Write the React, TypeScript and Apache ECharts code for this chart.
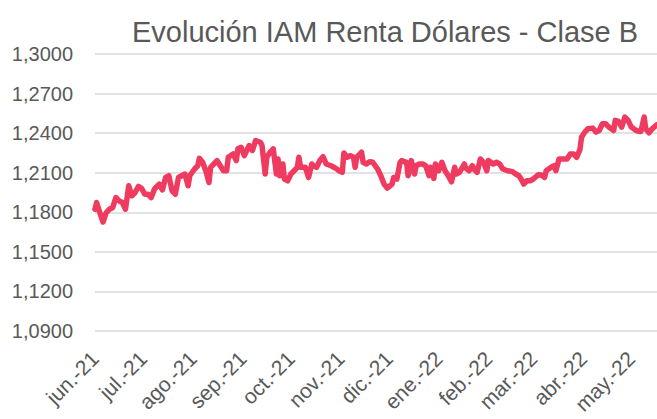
import React, { useEffect, useRef } from "react";
import * as echarts from "echarts";

const TITLE = "Evolución IAM Renta Dólares - Clase B";
const MONTHS_ES = ["ene.", "feb.", "mar.", "abr.", "may.", "jun.", "jul.", "ago.", "sep.", "oct.", "nov.", "dic."];
const Y_MIN = 1.09;
const Y_MAX = 1.3;
const Y_STEP = 0.03;
const X_START = "2021-06-01";
const X_END = "2022-05-17";
const TICK_MONTHS = [
  "2021-06", "2021-07", "2021-08", "2021-09", "2021-10", "2021-11",
  "2021-12", "2022-01", "2022-02", "2022-03", "2022-04", "2022-05",
];

const dates = [
  "2021-06-01", "2021-06-02", "2021-06-04", "2021-06-06", "2021-06-08", "2021-06-10", "2021-06-12", "2021-06-14",
  "2021-06-16", "2021-06-18", "2021-06-20", "2021-06-22", "2021-06-24", "2021-06-26", "2021-06-28", "2021-06-30",
  "2021-07-02", "2021-07-04", "2021-07-06", "2021-07-08", "2021-07-11", "2021-07-13", "2021-07-15", "2021-07-17",
  "2021-07-19", "2021-07-21", "2021-07-23", "2021-07-25", "2021-07-27", "2021-07-29", "2021-07-30", "2021-08-02",
  "2021-08-04", "2021-08-05", "2021-08-07", "2021-08-09", "2021-08-11", "2021-08-12", "2021-08-14", "2021-08-16",
  "2021-08-18", "2021-08-20", "2021-08-22", "2021-08-23", "2021-08-26", "2021-08-28", "2021-08-29", "2021-08-31",
  "2021-09-02", "2021-09-04", "2021-09-05", "2021-09-07", "2021-09-09", "2021-09-12", "2021-09-13", "2021-09-15",
  "2021-09-16", "2021-09-18", "2021-09-20", "2021-09-22", "2021-09-23", "2021-09-24", "2021-09-26", "2021-09-27",
  "2021-09-29", "2021-10-01", "2021-10-03", "2021-10-05", "2021-10-06", "2021-10-07", "2021-10-10", "2021-10-12",
  "2021-10-14", "2021-10-15", "2021-10-17", "2021-10-19", "2021-10-21", "2021-10-23", "2021-10-26", "2021-10-29",
  "2021-10-31", "2021-11-02", "2021-11-03", "2021-11-05", "2021-11-07", "2021-11-09", "2021-11-10", "2021-11-11",
  "2021-11-14", "2021-11-15", "2021-11-17", "2021-11-19", "2021-11-21", "2021-11-24", "2021-11-26", "2021-11-28",
  "2021-11-30", "2021-12-03", "2021-12-04", "2021-12-06", "2021-12-08", "2021-12-09", "2021-12-12", "2021-12-13",
  "2021-12-15", "2021-12-17", "2021-12-18", "2021-12-20", "2021-12-22", "2021-12-24", "2021-12-26", "2021-12-27",
  "2021-12-29", "2021-12-30", "2022-01-01", "2022-01-03", "2022-01-05", "2022-01-07", "2022-01-09", "2022-01-11",
  "2022-01-12", "2022-01-14", "2022-01-17", "2022-01-18", "2022-01-20", "2022-01-22", "2022-01-23", "2022-01-25",
  "2022-01-27", "2022-01-29", "2022-01-31", "2022-02-01", "2022-02-04", "2022-02-06", "2022-02-08", "2022-02-10",
  "2022-02-13", "2022-02-16", "2022-02-18", "2022-02-20", "2022-02-22", "2022-02-23", "2022-02-25", "2022-02-27",
  "2022-03-01", "2022-03-04", "2022-03-06", "2022-03-08", "2022-03-09", "2022-03-12", "2022-03-14", "2022-03-15",
  "2022-03-17", "2022-03-20", "2022-03-22", "2022-03-24", "2022-03-26", "2022-03-28", "2022-03-30", "2022-03-31",
  "2022-04-02", "2022-04-04", "2022-04-07", "2022-04-09", "2022-04-11", "2022-04-13", "2022-04-15", "2022-04-17",
  "2022-04-20", "2022-04-21", "2022-04-23", "2022-04-25", "2022-04-27", "2022-04-29", "2022-05-01", "2022-05-04",
  "2022-05-06", "2022-05-07", "2022-05-09", "2022-05-10", "2022-05-12", "2022-05-14", "2022-05-17",
];

const values = [
  1.1823, 1.1874, 1.1798, 1.1726, 1.1798, 1.1823, 1.1836, 1.1912,
  1.1887, 1.1874, 1.1823, 1.2001, 1.1925, 1.195, 1.1996, 1.1981,
  1.1937, 1.1937, 1.1912, 1.1975, 1.2014, 1.197, 1.2064, 1.2077,
  1.1963, 1.1937, 1.2064, 1.2077, 1.209, 1.2001, 1.2077, 1.2128,
  1.2153, 1.2209, 1.2179, 1.2115, 1.2026, 1.2141, 1.2166, 1.2192,
  1.2153, 1.2115, 1.2115, 1.2217, 1.2242, 1.2192, 1.2281, 1.2293,
  1.223, 1.2281, 1.2306, 1.2268, 1.2344, 1.2331, 1.2306, 1.209,
  1.2217, 1.2255, 1.2281, 1.209, 1.2204, 1.2077, 1.2166, 1.2052,
  1.2039, 1.209, 1.2115, 1.2141, 1.2217, 1.2141, 1.2141, 1.2064,
  1.2166, 1.2153, 1.2141, 1.2192, 1.2222, 1.2166, 1.2153, 1.2133,
  1.2115, 1.2103, 1.225, 1.2217, 1.223, 1.2217, 1.2141, 1.2217,
  1.2255, 1.2179, 1.2166, 1.2184, 1.2179, 1.2128, 1.2077, 1.2014,
  1.1983, 1.2014, 1.2064, 1.2052, 1.2179, 1.2192, 1.2179, 1.2077,
  1.2192, 1.209, 1.2153, 1.2166, 1.2166, 1.2153, 1.2077, 1.2141,
  1.2057, 1.2166, 1.2115, 1.2179, 1.2115, 1.2077, 1.2031, 1.2141,
  1.209, 1.2103, 1.2166, 1.2133, 1.2115, 1.2153, 1.2128, 1.2103,
  1.2204, 1.2179, 1.2115, 1.2192, 1.2166, 1.2179, 1.2166, 1.2128,
  1.2115, 1.2108, 1.209, 1.2077, 1.2039, 1.2014, 1.2039, 1.2039,
  1.2052, 1.2085, 1.2082, 1.2064, 1.2115, 1.2141, 1.2153, 1.2115,
  1.2204, 1.2204, 1.2204, 1.2242, 1.2242, 1.2217, 1.2275, 1.2369,
  1.2408, 1.2433, 1.2438, 1.2408, 1.242, 1.2471, 1.2471, 1.2446,
  1.242, 1.2497, 1.2489, 1.2446, 1.2522, 1.2497, 1.2446, 1.242,
  1.2413, 1.2413, 1.2522, 1.2433, 1.2403, 1.2433, 1.2464,
];

const FONT = "'Liberation Sans', Arial, sans-serif";
const TEXT_COLOR = "#595959";
const DAY = 86400000;

function toTime(s: string) {
  const [y, m, d] = s.split("-").map(Number);
  return Date.UTC(y, m - 1, d || 1);
}

export default function App() {
  const ref = useRef<HTMLDivElement>(null);

  useEffect(() => {
    if (!ref.current) return;
    const chart = echarts.init(ref.current, null, { renderer: "svg" });
    const t0 = toTime(X_START);
    // x in days since start (value axis); y shifted so that ticks start at axis min
    const data = dates.map((d, i) => [(toTime(d) - t0) / DAY, +(values[i] - Y_MIN).toFixed(6)]);
    const tickDays = TICK_MONTHS.map((m) => (toTime(m) - t0) / DAY);
    chart.setOption({
      animation: false,
      backgroundColor: "#ffffff",
      title: {
        text: TITLE,
        left: 127,
        top: 12,
        textStyle: { fontFamily: FONT, fontSize: 29, fontWeight: "normal", color: TEXT_COLOR },
      },
      grid: { left: 95, right: 0, top: 54, bottom: 88, containLabel: false },
      xAxis: {
        type: "value",
        min: 0,
        max: (toTime(X_END) - t0) / DAY,
        axisLine: { show: false },
        axisTick: { show: false },
        splitLine: { show: false },
        axisLabel: {
          customValues: tickDays,
          rotate: 45,
          margin: 24,
          fontFamily: FONT,
          fontSize: 21,
          color: TEXT_COLOR,
          formatter: (v: number) => {
            const dt = new Date(t0 + Math.round(v) * DAY);
            return MONTHS_ES[dt.getUTCMonth()] + "-" + String(dt.getUTCFullYear()).slice(2);
          },
        },
      },
      yAxis: {
        type: "value",
        min: 0,
        max: +(Y_MAX - Y_MIN).toFixed(6),
        interval: Y_STEP,
        axisLine: { show: false },
        axisTick: { show: false },
        splitLine: { lineStyle: { color: "#D9D9D9", width: 1.5 } },
        axisLabel: {
          margin: 22,
          fontFamily: FONT,
          fontSize: 20,
          color: TEXT_COLOR,
          formatter: (v: number) => (v + Y_MIN).toFixed(4).replace(".", ","),
        },
      },
      series: [
        {
          type: "line",
          data,
          showSymbol: false,
          symbol: "none",
          lineStyle: { color: "#EE3B5F", width: 5.5, join: "round", cap: "round" },
          itemStyle: { color: "#EE3B5F" },
        },
      ],
    });
    return () => chart.dispose();
  }, []);

  return (
    <div
      ref={ref}
      style={{ position: "fixed", left: 0, top: 0, width: 657, height: 419, background: "#fff" }}
    />
  );
}
